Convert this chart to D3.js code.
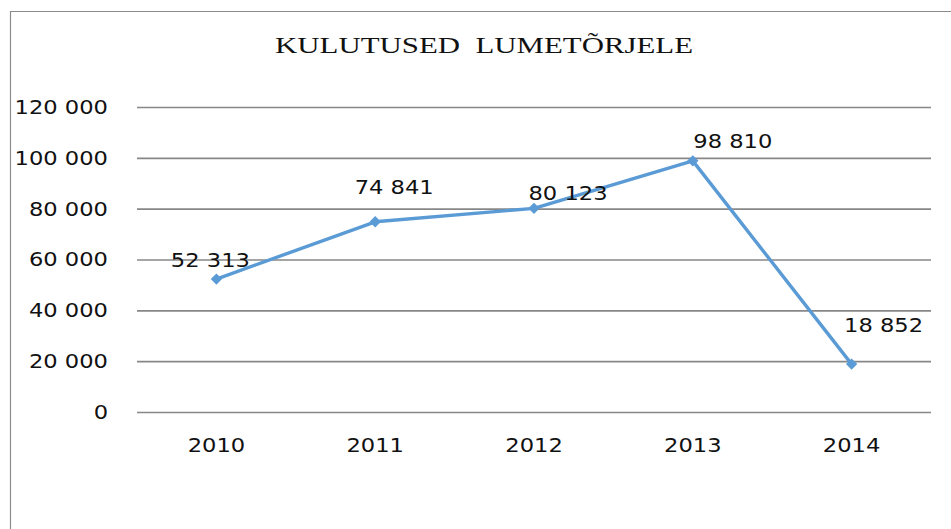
<!DOCTYPE html>
<html>
<head>
<meta charset="utf-8">
<script src="https://cdn.jsdelivr.net/npm/d3@7"></script>
<style>
  body { margin: 0; background: #fff; }
  svg { display: block; }
</style>
</head>
<body>
<div id="chart"></div>
<script>
// chart data
const years = ["2010", "2011", "2012", "2013", "2014"];
const costs = [52313, 74841, 80123, 98810, 18852];
const yTicks = [0, 20000, 40000, 60000, 80000, 100000, 120000];
const title = "KULUTUSED  LUMETÕRJELE";

// label nudges (layout only), relative to each point
const labelDx = [-6, 19, 34, 40, 32];
const labelDy = [-12, -28, -8, -13, -32];

const W = 951, H = 529;
const plot = {left: 137, right: 931, top: 107, bottom: 412};
const stretch = 1.13;

const svg = d3.select("#chart")
  .append("svg")
    .attr("width", W)
    .attr("height", H);

svg.append("rect").attr("width", W).attr("height", H).attr("fill", "#fff");

// outer frame (top and left edges visible)
svg.append("path")
  .attr("d", `M10.5,${H} L10.5,11.5 L${W},11.5`)
  .attr("fill", "none")
  .attr("stroke", "#8c8c8c")
  .attr("stroke-width", 1.2);

// widen text a little, like the original
function widen(sel) {
  sel.each(function() {
    const w = this.getComputedTextLength();
    d3.select(this)
      .attr("textLength", w * stretch)
      .attr("lengthAdjust", "spacingAndGlyphs");
  });
}

// title
svg.append("text")
  .attr("x", 484)
  .attr("y", 53)
  .attr("text-anchor", "middle")
  .attr("font-family", "'Liberation Serif', 'Times New Roman', serif")
  .attr("font-size", 24)
  .attr("fill", "#111")
  .style("white-space", "pre")
  .attr("textLength", 418)
  .attr("lengthAdjust", "spacingAndGlyphs")
  .text(title);

// scales
const x = d3.scaleBand()
  .domain(years)
  .range([plot.left, plot.right]);

const y = d3.scaleLinear()
  .domain([0, 120000])
  .range([plot.bottom, plot.top]);

const fmt = v => d3.format(",")(v).replace(/,/g, " ");

// Y axis with gridlines
const yAxis = svg.append("g")
  .attr("transform", `translate(${plot.left},0)`)
  .call(d3.axisLeft(y)
    .tickValues(yTicks)
    .tickFormat(fmt)
    .tickSize(-(plot.right - plot.left))
    .tickPadding(29));
yAxis.select(".domain").remove();
yAxis.selectAll(".tick line")
  .attr("stroke", "#878787")
  .attr("stroke-width", 1.6);
yAxis.selectAll(".tick text")
  .attr("font-family", "'DejaVu Sans', Verdana, sans-serif")
  .attr("font-size", 20)
  .attr("fill", "#111")
  .call(widen);

// X axis labels
const xAxis = svg.append("g")
  .attr("transform", `translate(0,${plot.bottom})`)
  .call(d3.axisBottom(x).tickSize(0).tickPadding(26));
xAxis.select(".domain").remove();
xAxis.selectAll(".tick text")
  .attr("font-family", "'DejaVu Sans', Verdana, sans-serif")
  .attr("font-size", 20)
  .attr("fill", "#111")
  .call(widen);

const data = years.map((yr, i) => ({year: yr, value: costs[i], i: i}));
const cx = d => x(d.year) + x.bandwidth() / 2;

// the line
svg.append("path")
  .datum(data)
  .attr("fill", "none")
  .attr("stroke", "#5b9bd5")
  .attr("stroke-width", 3.4)
  .attr("stroke-linejoin", "round")
  .attr("d", d3.line()
    .x(cx)
    .y(d => y(d.value)));

// diamond markers
svg.append("g")
  .selectAll("path")
  .data(data)
  .join("path")
    .attr("d", d3.symbol(d3.symbolSquare, 64))
    .attr("transform", d => `translate(${cx(d)},${y(d.value)}) rotate(45)`)
    .attr("fill", "#5b9bd5");

// data labels
svg.append("g")
  .selectAll("text")
  .data(data)
  .join("text")
    .attr("x", d => cx(d) + labelDx[d.i])
    .attr("y", d => y(d.value) + labelDy[d.i])
    .attr("text-anchor", "middle")
    .attr("font-family", "'DejaVu Sans', Verdana, sans-serif")
    .attr("font-size", 20)
    .attr("fill", "#111")
    .text(d => fmt(d.value))
    .call(widen);
</script>
</body>
</html>
